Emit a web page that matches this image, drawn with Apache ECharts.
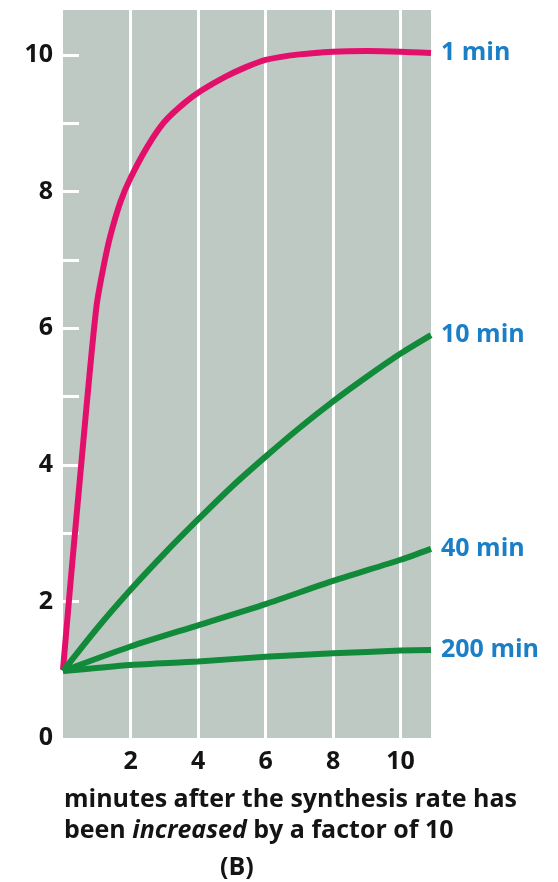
<!DOCTYPE html>
<html>
<head>
<meta charset="utf-8">
<script src="https://cdn.jsdelivr.net/npm/echarts@6/dist/echarts.min.js"></script>
<style>
  html, body { margin: 0; padding: 0; background: #ffffff; }
  #chart { width: 558px; height: 882px; }
</style>
</head>
<body>
<div id="chart"></div>
<script>
// Relative concentration after a 10-fold increase in synthesis rate,
// one curve per mRNA half-life. Each point is [minutes, relative level].
const seriesNames = ['1 min', '10 min', '40 min', '200 min'];

const halfLife1 = [
  [0, 1.0], [0.2, 2.15], [0.4, 3.25], [0.6, 4.33], [0.8, 5.4], [1.0, 6.35],
  [1.2, 6.9], [1.4, 7.35], [1.7, 7.85], [2.0, 8.2], [2.5, 8.66], [3.0, 9.02],
  [3.6, 9.3], [4.1, 9.48], [4.8, 9.68], [5.4, 9.82], [6.0, 9.93], [7.0, 10.01],
  [8.0, 10.05], [9.0, 10.06], [10.0, 10.05], [10.9, 10.03]
];
const halfLife10 = [
  [0, 0.98], [1, 1.6], [2, 2.17], [3, 2.7], [4, 3.2], [5, 3.68], [6, 4.12],
  [7, 4.54], [8, 4.93], [9, 5.29], [10, 5.63], [10.9, 5.9]
];
const halfLife40 = [
  [0, 0.98], [2, 1.34], [4, 1.65], [6, 1.96], [8, 2.3], [10, 2.61], [10.9, 2.77]
];
const halfLife200 = [
  [0, 0.98], [2, 1.07], [4, 1.12], [6, 1.19], [8, 1.24], [10, 1.28], [10.9, 1.29]
];

const xTickLabels = [2, 4, 6, 8, 10];
const yTickLabels = [0, 2, 4, 6, 8, 10];
const yMinorTicks = [1, 2, 3, 4, 5, 6, 7, 8, 9, 10];

const FONT = 'Open Sans';
const BLUE = '#1a7fc6';
const GREEN = '#118a3a';
const PINK = '#e3106b';
const INK = '#141414';

const chart = echarts.init(document.getElementById('chart'), null, { renderer: 'canvas' });

function curve(name, data, color, z) {
  return {
    name: name,
    type: 'line',
    data: data,
    z: z,
    smooth: 0.25,
    showSymbol: false,
    silent: true,
    lineStyle: { color: color, width: 6, cap: 'butt' },
    endLabel: {
      show: true,
      formatter: name,
      distance: 10,
      color: BLUE,
      fontFamily: FONT,
      fontWeight: 'bold',
      fontSize: 25
    }
  };
}

chart.setOption({
  animation: false,
  backgroundColor: '#ffffff',
  grid: {
    left: 63,
    right: 127,
    top: 10,
    bottom: 144,
    show: true,
    backgroundColor: '#bec9c3',
    borderWidth: 0
  },
  title: [
    {
      text: 'minutes after the synthesis rate has\nbeen {i|increased} by a factor of 10',
      left: 64,
      top: 784,
      padding: 0,
      textStyle: {
        fontFamily: FONT,
        fontWeight: 'bold',
        fontSize: 25,
        lineHeight: 31,
        color: INK,
        rich: {
          i: {
            fontFamily: FONT,
            fontWeight: 'bold',
            fontStyle: 'italic',
            fontSize: 25,
            lineHeight: 31,
            color: INK
          }
        }
      }
    },
    {
      text: '(B)',
      left: 220,
      top: 855,
      padding: 0,
      textStyle: { fontFamily: FONT, fontWeight: 'bold', fontSize: 25, color: INK }
    }
  ],
  xAxis: {
    type: 'value',
    min: 0,
    max: 10.9,
    interval: 2,
    axisLine: { show: false },
    axisTick: { show: false },
    splitLine: {
      show: true,
      showMinLine: false,
      showMaxLine: false,
      lineStyle: { color: '#ffffff', width: 3 }
    },
    axisLabel: {
      customValues: xTickLabels,
      margin: 11,
      fontFamily: FONT,
      fontWeight: 'bold',
      fontSize: 25,
      color: INK
    }
  },
  yAxis: {
    type: 'value',
    min: 0,
    max: 10.66,
    interval: 1,
    axisLine: { show: false },
    splitLine: { show: false },
    axisTick: {
      show: true,
      inside: true,
      length: 16,
      customValues: yMinorTicks,
      lineStyle: { color: '#ffffff', width: 3 }
    },
    axisLabel: {
      customValues: yTickLabels,
      margin: 10,
      fontFamily: FONT,
      fontWeight: 'bold',
      fontSize: 25,
      color: INK
    }
  },
  series: [
    curve(seriesNames[0], halfLife1, PINK, 2),
    curve(seriesNames[1], halfLife10, GREEN, 3),
    curve(seriesNames[2], halfLife40, GREEN, 3),
    curve(seriesNames[3], halfLife200, GREEN, 3)
  ]
});
</script>
</body>
</html>
